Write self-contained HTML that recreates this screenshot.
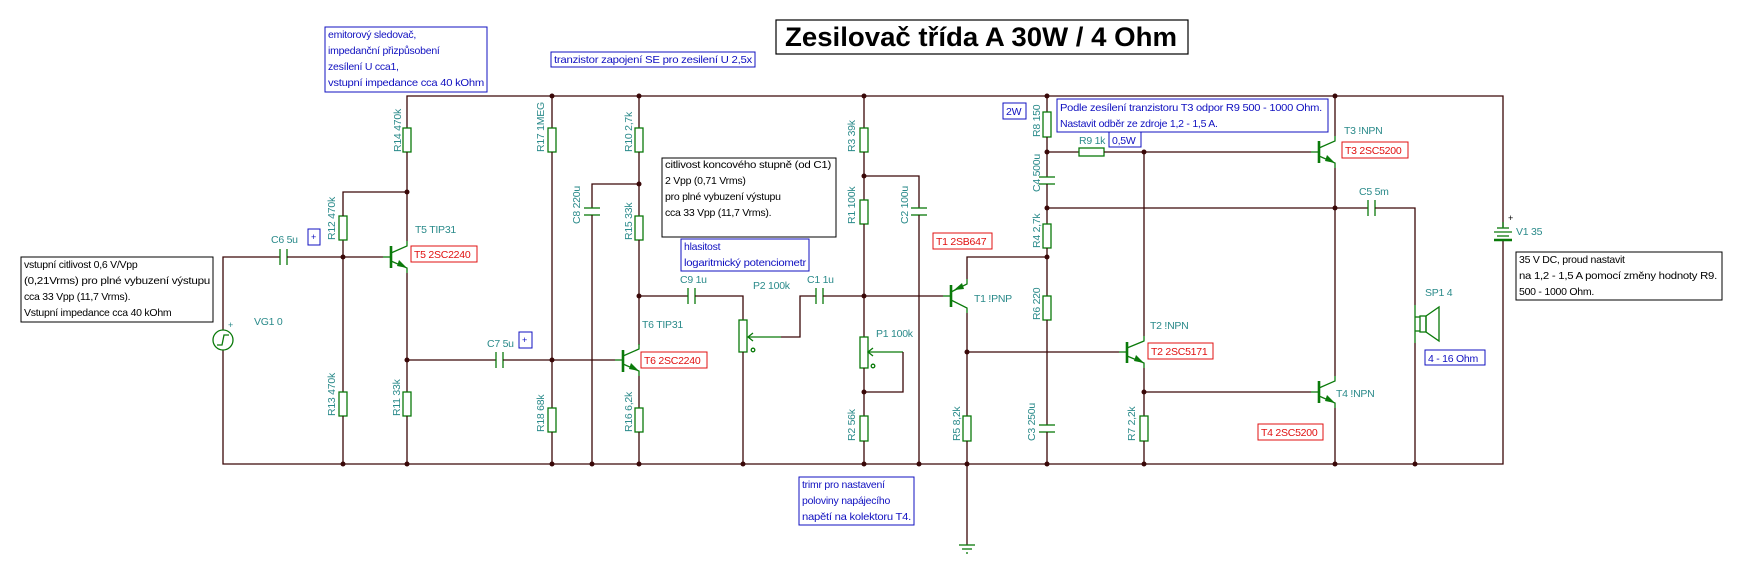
<!DOCTYPE html>
<html><head><meta charset="utf-8"><style>
html,body{margin:0;padding:0;background:#fff;}
svg{display:block;}
text{font-family:"Liberation Sans",Arial,sans-serif;font-size:10.5px;letter-spacing:-0.25px;}
.w{stroke:#3a0808;stroke-width:1.3;fill:none;}
.g{stroke:#0a7a0a;stroke-width:1.3;fill:none;}
.gb{stroke:#0a7a0a;stroke-width:2.6;fill:none;}
.lb{fill:#2a8a8a;}
.rd{fill:#e01010;}
.bl{fill:#1010c0;}
.bk{fill:#000;}
.rbox{fill:#fff;stroke:#e01010;stroke-width:1;}
.bbox{fill:#fff;stroke:#1010c0;stroke-width:1;}
.kbox{fill:#fff;stroke:#000;stroke-width:1;}
</style></head><body>
<svg width="1743" height="572" viewBox="0 0 1743 572" xmlns="http://www.w3.org/2000/svg">
<!-- Title -->
<rect x="776" y="20" width="412" height="34" fill="#fff" stroke="#000" stroke-width="1.2"/>
<text x="785" y="46" style="font-size:27px;font-weight:bold;letter-spacing:0" textLength="392" lengthAdjust="spacingAndGlyphs">Zesilovač třída A 30W / 4 Ohm</text>

<!-- Rails -->
<polyline class="w" points="407,128 407,96 1503,96 1503,227"/>
<polyline class="w" points="1503,240 1503,464 223,464 223,350"/>

<!-- Left input -->
<polyline class="w" points="223,330 223,257 280,257"/>
<circle cx="223" cy="340" r="10" class="g"/>
<polyline class="g" points="217,345 222,345 224,335 229,335"/>
<line class="g" x1="280" y1="249" x2="280" y2="265"/><line class="g" x1="287" y1="249" x2="287" y2="265"/>
<line class="w" x1="287" y1="257" x2="383" y2="257"/>
<polyline class="w" points="343,257 343,240"/><rect x="339" y="216" width="8" height="24" class="g"/><polyline class="w" points="343,216 343,192 407,192"/>
<line class="w" x1="343" y1="257" x2="343" y2="392"/><rect x="339" y="392" width="8" height="24" class="g"/><line class="w" x1="343" y1="416" x2="343" y2="464"/>
<rect x="403" y="128" width="8" height="24" class="g"/><line class="w" x1="407" y1="152" x2="407" y2="241"/>
<line class="g" x1="383" y1="257" x2="391" y2="257"/>
<line class="gb" x1="391" y1="246" x2="391" y2="268"/>
<polyline class="g" points="391,253 407,246 407,241"/><polyline class="g" points="391,261 407,268 407,273"/>
<polygon points="407,268 399,260 397,266" fill="#0a7a0a"/>
<line class="w" x1="407" y1="273" x2="407" y2="392"/><rect x="403" y="392" width="8" height="24" class="g"/><line class="w" x1="407" y1="416" x2="407" y2="464"/>
<line class="w" x1="407" y1="360" x2="496" y2="360"/>
<line class="g" x1="496" y1="352" x2="496" y2="368"/><line class="g" x1="503" y1="352" x2="503" y2="368"/>
<line class="w" x1="503" y1="360" x2="615" y2="360"/>
<line class="w" x1="552" y1="96" x2="552" y2="128"/><rect x="548" y="128" width="8" height="24" class="g"/><line class="w" x1="552" y1="152" x2="552" y2="408"/><rect x="548" y="408" width="8" height="24" class="g"/><line class="w" x1="552" y1="432" x2="552" y2="464"/>
<polyline class="w" points="639,184 592,184 592,208"/>
<line class="g" x1="584" y1="208" x2="600" y2="208"/><line class="g" x1="584" y1="215" x2="600" y2="215"/>
<line class="w" x1="592" y1="215" x2="592" y2="464"/>
<line class="w" x1="639" y1="96" x2="639" y2="128"/><rect x="635" y="128" width="8" height="24" class="g"/><line class="w" x1="639" y1="152" x2="639" y2="216"/><rect x="635" y="216" width="8" height="24" class="g"/><line class="w" x1="639" y1="240" x2="639" y2="345"/>
<line class="g" x1="615" y1="360" x2="623" y2="360"/>
<line class="gb" x1="623" y1="350" x2="623" y2="372"/>
<polyline class="g" points="623,356 639,349 639,344"/><polyline class="g" points="623,364 639,371 639,376"/>
<polygon points="639,371 631,363 629,369" fill="#0a7a0a"/>
<line class="w" x1="639" y1="376" x2="639" y2="408"/><rect x="635" y="408" width="8" height="24" class="g"/><line class="w" x1="639" y1="432" x2="639" y2="464"/>
<line class="w" x1="639" y1="296" x2="688" y2="296"/>
<line class="g" x1="688" y1="288" x2="688" y2="304"/><line class="g" x1="695" y1="288" x2="695" y2="304"/>
<polyline class="w" points="695,296 743,296 743,320"/>
<rect x="739" y="320" width="8" height="32" class="g"/>
<line class="w" x1="743" y1="352" x2="743" y2="464"/>
<line class="g" x1="748" y1="337" x2="781" y2="337"/><polyline class="g" points="753,333 748,337 753,341"/>
<circle cx="753" cy="350" r="1.8" class="g"/>
<polyline class="w" points="781,337 800,337 800,296 816,296"/>
<line class="g" x1="816" y1="288" x2="816" y2="304"/><line class="g" x1="823" y1="288" x2="823" y2="304"/>
<line class="w" x1="823" y1="296" x2="943" y2="296"/>
<line class="w" x1="864" y1="96" x2="864" y2="128"/><rect x="860" y="128" width="8" height="24" class="g"/><line class="w" x1="864" y1="152" x2="864" y2="200"/><rect x="860" y="200" width="8" height="24" class="g"/><line class="w" x1="864" y1="224" x2="864" y2="337"/>
<rect x="860" y="337" width="8" height="31" class="g"/>
<line class="w" x1="864" y1="368" x2="864" y2="416"/><rect x="860" y="416" width="8" height="25" class="g"/><line class="w" x1="864" y1="441" x2="864" y2="464"/>
<line class="g" x1="868" y1="352" x2="903" y2="352"/><polyline class="g" points="873,348 868,352 873,356"/>
<circle cx="873" cy="366" r="1.8" class="g"/>
<polyline class="w" points="903,352 903,392 864,392"/>
<polyline class="w" points="864,176 919,176 919,208"/>
<line class="g" x1="911" y1="208" x2="927" y2="208"/><line class="g" x1="911" y1="215" x2="927" y2="215"/>
<line class="w" x1="919" y1="215" x2="919" y2="464"/>
<line class="g" x1="943" y1="296" x2="951" y2="296"/>
<line class="gb" x1="951" y1="285" x2="951" y2="307"/>
<polyline class="g" points="951,292 967,284 967,279"/><polyline class="g" points="951,300 967,308 967,313"/>
<polygon points="954,290 962,283 964,289" fill="#0a7a0a"/>
<polyline class="w" points="967,279 967,257 1047,257"/>
<line class="w" x1="967" y1="313" x2="967" y2="416"/><rect x="963" y="416" width="8" height="25" class="g"/><line class="w" x1="967" y1="441" x2="967" y2="545"/>
<line class="g" x1="959" y1="545" x2="975" y2="545"/><line class="g" x1="962" y1="549" x2="972" y2="549"/><line class="g" x1="966" y1="553" x2="968" y2="553"/>
<line class="w" x1="967" y1="352" x2="1119" y2="352"/>
<line class="w" x1="1047" y1="96" x2="1047" y2="112"/><rect x="1043" y="112" width="8" height="25" class="g"/><line class="w" x1="1047" y1="137" x2="1047" y2="177"/>
<line class="g" x1="1039" y1="177" x2="1055" y2="177"/><line class="g" x1="1039" y1="184" x2="1055" y2="184"/>
<line class="w" x1="1047" y1="184" x2="1047" y2="224"/><rect x="1043" y="224" width="8" height="24" class="g"/><line class="w" x1="1047" y1="248" x2="1047" y2="296"/><rect x="1043" y="296" width="8" height="24" class="g"/><line class="w" x1="1047" y1="320" x2="1047" y2="425"/>
<line class="g" x1="1039" y1="425" x2="1055" y2="425"/><line class="g" x1="1039" y1="432" x2="1055" y2="432"/>
<line class="w" x1="1047" y1="432" x2="1047" y2="464"/>
<line class="w" x1="1047" y1="152" x2="1079" y2="152"/><rect x="1079" y="148" width="25" height="8" class="g"/><line class="w" x1="1104" y1="152" x2="1311" y2="152"/>
<line class="w" x1="1047" y1="208" x2="1368" y2="208"/>
<line class="w" x1="1144" y1="152" x2="1144" y2="336"/>
<line class="g" x1="1119" y1="352" x2="1127" y2="352"/>
<line class="gb" x1="1127" y1="342" x2="1127" y2="363"/>
<polyline class="g" points="1127,348 1144,341 1144,336"/><polyline class="g" points="1127,356 1144,363 1144,368"/>
<polygon points="1144,363 1136,355 1134,361" fill="#0a7a0a"/>
<line class="w" x1="1144" y1="368" x2="1144" y2="416"/><rect x="1140" y="416" width="8" height="25" class="g"/><line class="w" x1="1144" y1="441" x2="1144" y2="464"/>
<line class="w" x1="1144" y1="392" x2="1311" y2="392"/>
<line class="g" x1="1311" y1="152" x2="1319" y2="152"/>
<line class="gb" x1="1319" y1="141" x2="1319" y2="163"/>
<polyline class="g" points="1319,148 1335,141 1335,136"/><polyline class="g" points="1319,156 1335,163 1335,168"/>
<polygon points="1335,163 1327,155 1325,161" fill="#0a7a0a"/>
<line class="w" x1="1335" y1="96" x2="1335" y2="136"/>
<line class="w" x1="1335" y1="168" x2="1335" y2="376"/>
<line class="g" x1="1311" y1="392" x2="1319" y2="392"/>
<line class="gb" x1="1319" y1="381" x2="1319" y2="403"/>
<polyline class="g" points="1319,388 1335,381 1335,376"/><polyline class="g" points="1319,396 1335,403 1335,408"/>
<polygon points="1335,403 1327,395 1325,401" fill="#0a7a0a"/>
<line class="w" x1="1335" y1="408" x2="1335" y2="464"/>
<line class="g" x1="1368" y1="200" x2="1368" y2="216"/><line class="g" x1="1375" y1="200" x2="1375" y2="216"/>
<polyline class="w" points="1375,208 1415,208 1415,305"/>
<line class="g" x1="1415" y1="305" x2="1415" y2="343"/>
<line class="g" x1="1415" y1="317" x2="1420" y2="317"/><line class="g" x1="1415" y1="331" x2="1420" y2="331"/>
<rect x="1420" y="316" width="6" height="16" class="g"/>
<polygon points="1426,316 1439,307 1439,341 1426,332" class="g"/>
<line class="w" x1="1415" y1="343" x2="1415" y2="464"/>
<line class="g" x1="1503" y1="222" x2="1503" y2="228"/>
<line class="g" x1="1497" y1="228" x2="1509" y2="228"/>
<line class="g" x1="1494" y1="232" x2="1512" y2="232"/>
<line class="g" x1="1497" y1="236" x2="1509" y2="236"/>
<line class="gb" x1="1494" y1="240" x2="1512" y2="240"/>
<text x="1508" y="221" class="bk" style="font-size:9px">+</text>

<g fill="#3a0808">
<circle cx="552" cy="96" r="2.5"/><circle cx="639" cy="96" r="2.5"/><circle cx="864" cy="96" r="2.5"/><circle cx="1047" cy="96" r="2.5"/><circle cx="1335" cy="96" r="2.5"/>
<circle cx="407" cy="192" r="2.5"/><circle cx="343" cy="257" r="2.5"/><circle cx="407" cy="360" r="2.5"/><circle cx="552" cy="360" r="2.5"/>
<circle cx="639" cy="184" r="2.5"/><circle cx="639" cy="296" r="2.5"/><circle cx="864" cy="176" r="2.5"/><circle cx="864" cy="296" r="2.5"/><circle cx="864" cy="392" r="2.5"/>
<circle cx="1047" cy="152" r="2.5"/><circle cx="1144" cy="152" r="2.5"/><circle cx="1047" cy="208" r="2.5"/><circle cx="1335" cy="208" r="2.5"/><circle cx="1047" cy="257" r="2.5"/>
<circle cx="967" cy="352" r="2.5"/><circle cx="1144" cy="392" r="2.5"/>
<circle cx="343" cy="464" r="2.5"/><circle cx="407" cy="464" r="2.5"/><circle cx="552" cy="464" r="2.5"/><circle cx="592" cy="464" r="2.5"/><circle cx="639" cy="464" r="2.5"/><circle cx="743" cy="464" r="2.5"/><circle cx="864" cy="464" r="2.5"/><circle cx="919" cy="464" r="2.5"/><circle cx="967" cy="464" r="2.5"/><circle cx="1047" cy="464" r="2.5"/><circle cx="1144" cy="464" r="2.5"/><circle cx="1335" cy="464" r="2.5"/><circle cx="1415" cy="464" r="2.5"/>
</g>

<g class="lb">
<text transform="translate(401,152) rotate(-90)">R14 470k</text>
<text transform="translate(335,240) rotate(-90)">R12 470k</text>
<text transform="translate(544,152) rotate(-90)">R17 1MEG</text>
<text transform="translate(632,152) rotate(-90)">R10 2,7k</text>
<text transform="translate(580,224) rotate(-90)">C8 220u</text>
<text transform="translate(632,240) rotate(-90)">R15 33k</text>
<text transform="translate(335,416) rotate(-90)">R13 470k</text>
<text transform="translate(400,416) rotate(-90)">R11  33k</text>
<text transform="translate(544,432) rotate(-90)">R18 68k</text>
<text transform="translate(632,432) rotate(-90)">R16 6,2k</text>
<text transform="translate(855,152) rotate(-90)">R3 39k</text>
<text transform="translate(855,224) rotate(-90)">R1 100k</text>
<text transform="translate(908,224) rotate(-90)">C2 100u</text>
<text transform="translate(1040,137) rotate(-90)">R8 150</text>
<text transform="translate(1040,192) rotate(-90)">C4 500u</text>
<text transform="translate(1040,248) rotate(-90)">R4 2,7k</text>
<text transform="translate(1040,320) rotate(-90)">R6 220</text>
<text transform="translate(855,441) rotate(-90)">R2 56k</text>
<text transform="translate(960,441) rotate(-90)">R5 8,2k</text>
<text transform="translate(1035,441) rotate(-90)">C3 250u</text>
<text transform="translate(1135,441) rotate(-90)">R7 2,2k</text>
<text x="415" y="233">T5 TIP31</text>
<text x="271" y="243">C6 5u</text>
<text x="254" y="325">VG1 0</text>
<text x="487" y="347">C7 5u</text>
<text x="642" y="328">T6 TIP31</text>
<text x="680" y="283">C9 1u</text>
<text x="753" y="289">P2 100k</text>
<text x="807" y="283">C1 1u</text>
<text x="974" y="302">T1 !PNP</text>
<text x="876" y="337">P1 100k</text>
<text x="1150" y="329">T2 !NPN</text>
<text x="1079" y="144">R9 1k</text>
<text x="1344" y="134">T3 !NPN</text>
<text x="1359" y="195">C5 5m</text>
<text x="1516" y="235">V1 35</text>
<text x="1425" y="296">SP1 4</text>
<text x="1336" y="397">T4 !NPN</text>
</g>
<text x="228" y="328" class="lb" style="font-size:9px">+</text>

<rect x="411" y="246" width="66" height="16" class="rbox"/><text x="414" y="258" class="rd">T5 2SC2240</text>
<rect x="641" y="352" width="66" height="16" class="rbox"/><text x="644" y="364" class="rd">T6 2SC2240</text>
<rect x="933" y="233" width="59" height="16" class="rbox"/><text x="936" y="245" class="rd">T1 2SB647</text>
<rect x="1148" y="343" width="65" height="16" class="rbox"/><text x="1151" y="355" class="rd">T2 2SC5171</text>
<rect x="1342" y="142" width="66" height="16" class="rbox"/><text x="1345" y="154" class="rd">T3 2SC5200</text>
<rect x="1258" y="424" width="65" height="16" class="rbox"/><text x="1261" y="436" class="rd">T4 2SC5200</text>

<rect x="325" y="27" width="162" height="65" class="bbox"/>
<text x="328" y="38" class="bl">emitorový sledovač,</text>
<text x="328" y="54" class="bl">impedanční přizpůsobení</text>
<text x="328" y="70" class="bl">zesílení U cca1,</text>
<text x="328" y="86" class="bl" textLength="156" lengthAdjust="spacingAndGlyphs">vstupní impedance cca 40 kOhm</text>
<rect x="551" y="52" width="204" height="15" class="bbox"/>
<text x="554" y="63" class="bl" textLength="198" lengthAdjust="spacingAndGlyphs">tranzistor zapojení SE pro zesilení U 2,5x</text>
<rect x="681" y="239" width="128" height="32" class="bbox"/>
<text x="684" y="250" class="bl">hlasitost</text>
<text x="684" y="266" class="bl" textLength="122" lengthAdjust="spacingAndGlyphs">logaritmický potenciometr</text>
<rect x="1057" y="99" width="271" height="33" class="bbox"/>
<text x="1060" y="111" class="bl" textLength="262" lengthAdjust="spacingAndGlyphs">Podle zesílení tranzistoru T3 odpor R9 500 - 1000 Ohm.</text>
<text x="1060" y="127" class="bl">Nastavit odběr ze zdroje 1,2 - 1,5 A.</text>
<rect x="1003" y="103" width="23" height="16" class="bbox"/><text x="1006" y="115" class="bl">2W</text>
<rect x="1109" y="132" width="32" height="15" class="bbox"/><text x="1112" y="144" class="bl">0,5W</text>
<rect x="1425" y="350" width="60" height="15" class="bbox"/><text x="1428" y="362" class="bl">4 - 16 Ohm</text>
<rect x="799" y="477" width="115" height="48" class="bbox"/>
<text x="802" y="488" class="bl">trimr pro nastavení</text>
<text x="802" y="504" class="bl">poloviny napájecího</text>
<text x="802" y="520" class="bl" textLength="109" lengthAdjust="spacingAndGlyphs">napětí na kolektoru T4.</text>
<rect x="308" y="229" width="12" height="16" class="bbox"/><text x="311" y="240" class="bl" style="font-size:9px">+</text>
<rect x="519" y="332" width="13" height="16" class="bbox"/><text x="522" y="343" class="bl" style="font-size:9px">+</text>

<rect x="21" y="257" width="192" height="65" class="kbox"/>
<text x="24" y="268" class="bk">vstupní citlivost 0,6 V/Vpp</text>
<text x="24" y="284" class="bk" textLength="186" lengthAdjust="spacingAndGlyphs">(0,21Vrms) pro plné vybuzení výstupu</text>
<text x="24" y="300" class="bk">cca 33 Vpp (11,7 Vrms).</text>
<text x="24" y="316" class="bk">Vstupní impedance cca 40 kOhm</text>
<rect x="662" y="158" width="174" height="79" class="kbox"/>
<text x="665" y="168" class="bk" textLength="166" lengthAdjust="spacingAndGlyphs">citlivost koncového stupně (od C1)</text>
<text x="665" y="184" class="bk">2 Vpp (0,71 Vrms)</text>
<text x="665" y="200" class="bk">pro plné vybuzení výstupu</text>
<text x="665" y="216" class="bk">cca 33 Vpp (11,7 Vrms).</text>
<rect x="1516" y="252" width="206" height="48" class="kbox"/>
<text x="1519" y="263" class="bk">35 V DC, proud nastavit</text>
<text x="1519" y="279" class="bk" textLength="198" lengthAdjust="spacingAndGlyphs">na 1,2 - 1,5 A pomocí změny hodnoty R9.</text>
<text x="1519" y="295" class="bk">500 - 1000 Ohm.</text>
</svg>
</body></html>
